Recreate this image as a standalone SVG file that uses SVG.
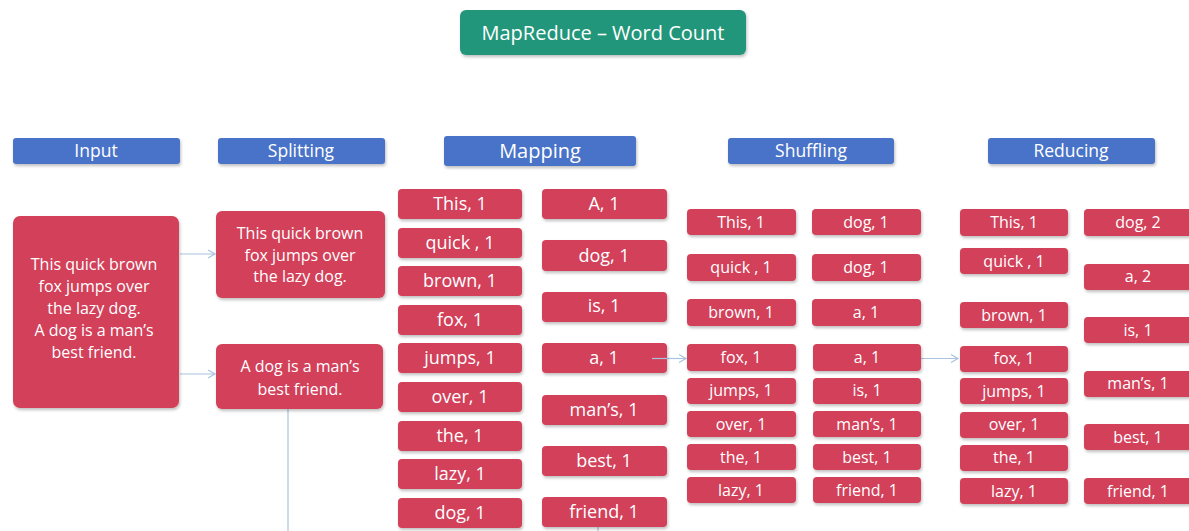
<svg xmlns="http://www.w3.org/2000/svg" width="1189" height="531" viewBox="0 0 1189 531">
<defs>
<filter id="sh" x="-10%" y="-20%" width="130%" height="160%">
<feDropShadow dx="1" dy="2" stdDeviation="1.5" flood-color="#000" flood-opacity="0.25"/>
</filter>
<marker id="arr" markerWidth="10" markerHeight="10" refX="8" refY="5" orient="auto" markerUnits="userSpaceOnUse">
<path d="M1,1 L8,5 L1,9" fill="none" stroke="#a9c2df" stroke-width="1.2"/>
</marker>
<style>
.r{fill:#d2405a;filter:url(#sh)}
.b{fill:#4a73c8;filter:url(#sh)}
.g{fill:#24967a;filter:url(#sh)}
text{font-family:"Open Sans","Noto Sans",sans-serif;fill:#fff;text-anchor:middle;dominant-baseline:central}
.t18{font-size:18px}
.t16{font-size:16px}
.t15{font-size:16px}
.h{font-size:17.5px}
.c{stroke:#a9c2df;stroke-width:1.2;fill:none}
</style>
</defs>
<rect width="1189" height="531" fill="#fff"/>

<g id="title"><rect class="g" x="460" y="10" width="286" height="45" rx="6"/><text x="603" y="32" style="font-size:20px">MapReduce – Word Count</text></g>

<g id="hdr-input"><rect class="b" x="13" y="138" width="167" height="26" rx="3"/><text class="h" x="96" y="150">Input</text></g>
<g id="hdr-splitting"><rect class="b" x="218" y="138" width="167" height="26" rx="3"/><text class="h" x="301" y="150">Splitting</text></g>
<g id="hdr-mapping"><rect class="b" x="444" y="136" width="192" height="30" rx="3"/><text x="540" y="150" style="font-size:20px">Mapping</text></g>
<g id="hdr-shuffling"><rect class="b" x="728" y="138" width="166" height="26" rx="3"/><text class="h" x="811" y="150">Shuffling</text></g>
<g id="hdr-reducing"><rect class="b" x="988" y="138" width="167" height="26" rx="3"/><text class="h" x="1071" y="150">Reducing</text></g>

<g id="connectors">
<line class="c" x1="180" y1="254" x2="215" y2="254" marker-end="url(#arr)"/>
<line class="c" x1="180" y1="374" x2="215" y2="374" marker-end="url(#arr)"/>
<line class="c" x1="288" y1="409" x2="288" y2="531"/>
<line class="c" x1="598" y1="527" x2="598" y2="531"/>
<line class="c" x1="667" y1="358.5" x2="686" y2="358.5" marker-end="url(#arr)"/>
<line class="c" x1="921" y1="358.5" x2="958" y2="358.5" marker-end="url(#arr)"/>
</g>

<g id="input"><rect class="r" x="13" y="216" width="166" height="192" rx="7"/>
<text class="t15" x="94" y="264">This quick brown</text>
<text class="t15" x="94" y="286">fox jumps over</text>
<text class="t15" x="94" y="308">the lazy dog.</text>
<text class="t15" x="94" y="330">A dog is a man’s</text>
<text class="t15" x="94" y="352">best friend.</text></g>

<g id="split1"><rect class="r" x="216" y="211" width="169" height="87" rx="6"/>
<text class="t15" x="300" y="233">This quick brown</text>
<text class="t15" x="300" y="255">fox jumps over</text>
<text class="t15" x="300" y="276">the lazy dog.</text></g>
<g id="split2"><rect class="r" x="216" y="344" width="167" height="65" rx="6"/>
<text class="t16" x="300" y="366">A dog is a man’s</text>
<text class="t16" x="300" y="389">best friend.</text></g>

<g id="map-this"><rect class="r" x="398" y="189" width="124" height="30" rx="4"/><text class="t18" x="460" y="203">This, 1</text></g>
<g id="map-quick"><rect class="r" x="398" y="228" width="124" height="30" rx="4"/><text class="t18" x="460" y="242">quick , 1</text></g>
<g id="map-brown"><rect class="r" x="398" y="266" width="124" height="30" rx="4"/><text class="t18" x="460" y="280">brown, 1</text></g>
<g id="map-fox"><rect class="r" x="398" y="305" width="124" height="30" rx="4"/><text class="t18" x="460" y="319">fox, 1</text></g>
<g id="map-jumps"><rect class="r" x="398" y="343" width="124" height="30" rx="4"/><text class="t18" x="460" y="357">jumps, 1</text></g>
<g id="map-over"><rect class="r" x="398" y="382" width="124" height="30" rx="4"/><text class="t18" x="460" y="396">over, 1</text></g>
<g id="map-the"><rect class="r" x="398" y="421" width="124" height="30" rx="4"/><text class="t18" x="460" y="435">the, 1</text></g>
<g id="map-lazy"><rect class="r" x="398" y="459" width="124" height="30" rx="4"/><text class="t18" x="460" y="473">lazy, 1</text></g>
<g id="map-dog"><rect class="r" x="398" y="498" width="124" height="30" rx="4"/><text class="t18" x="460" y="512">dog, 1</text></g>

<g id="map-A"><rect class="r" x="542" y="189" width="125" height="30" rx="4"/><text class="t18" x="604" y="203">A, 1</text></g>
<g id="map-dog2"><rect class="r" x="542" y="240" width="125" height="31" rx="4"/><text class="t18" x="604" y="255">dog, 1</text></g>
<g id="map-is"><rect class="r" x="542" y="292" width="125" height="30" rx="4"/><text class="t18" x="604" y="305">is, 1</text></g>
<g id="map-a"><rect class="r" x="542" y="343" width="125" height="30" rx="4"/><text class="t18" x="604" y="357">a, 1</text></g>
<g id="map-mans"><rect class="r" x="542" y="395" width="125" height="30" rx="4"/><text class="t18" x="604" y="409">man’s, 1</text></g>
<g id="map-best"><rect class="r" x="542" y="446" width="125" height="30" rx="4"/><text class="t18" x="604" y="460">best, 1</text></g>
<g id="map-friend"><rect class="r" x="542" y="497" width="125" height="30" rx="4"/><text class="t18" x="604" y="511">friend, 1</text></g>
<line class="c" x1="652" y1="358.5" x2="667" y2="358.5"/>

<g id="sh-this"><rect class="r" x="687" y="209" width="109" height="26" rx="4"/><text class="t16" x="741" y="222">This, 1</text></g>
<g id="sh-quick"><rect class="r" x="687" y="254" width="109" height="27" rx="4"/><text class="t16" x="741" y="267">quick , 1</text></g>
<g id="sh-brown"><rect class="r" x="687" y="299" width="109" height="27" rx="4"/><text class="t16" x="741" y="312">brown, 1</text></g>
<g id="sh-fox"><rect class="r" x="687" y="344" width="109" height="27" rx="4"/><text class="t16" x="741" y="357">fox, 1</text></g>
<g id="sh-jumps"><rect class="r" x="687" y="378" width="109" height="26" rx="4"/><text class="t16" x="741" y="390">jumps, 1</text></g>
<g id="sh-over"><rect class="r" x="687" y="411" width="109" height="26" rx="4"/><text class="t16" x="741" y="424">over, 1</text></g>
<g id="sh-the"><rect class="r" x="687" y="444" width="109" height="26" rx="4"/><text class="t16" x="741" y="457">the, 1</text></g>
<g id="sh-lazy"><rect class="r" x="687" y="477" width="109" height="26" rx="4"/><text class="t16" x="741" y="490">lazy, 1</text></g>

<g id="sh-dog1"><rect class="r" x="812" y="209" width="109" height="26" rx="4"/><text class="t16" x="866" y="222">dog, 1</text></g>
<g id="sh-dog2"><rect class="r" x="812" y="254" width="109" height="27" rx="4"/><text class="t16" x="866" y="267">dog, 1</text></g>
<g id="sh-a1"><rect class="r" x="812" y="299" width="109" height="27" rx="4"/><text class="t16" x="866" y="312">a, 1</text></g>
<g id="sh-a2"><rect class="r" x="813" y="344" width="108" height="27" rx="4"/><text class="t16" x="867" y="357">a, 1</text></g>
<g id="sh-is"><rect class="r" x="813" y="378" width="108" height="26" rx="4"/><text class="t16" x="867" y="390">is, 1</text></g>
<g id="sh-mans"><rect class="r" x="813" y="411" width="108" height="26" rx="4"/><text class="t16" x="867" y="424">man’s, 1</text></g>
<g id="sh-best"><rect class="r" x="813" y="444" width="108" height="26" rx="4"/><text class="t16" x="867" y="457">best, 1</text></g>
<g id="sh-friend"><rect class="r" x="813" y="477" width="108" height="26" rx="4"/><text class="t16" x="867" y="490">friend, 1</text></g>

<g id="red-this"><rect class="r" x="960" y="209" width="108" height="27" rx="4"/><text class="t16" x="1014" y="222">This, 1</text></g>
<g id="red-quick"><rect class="r" x="960" y="248" width="108" height="26" rx="4"/><text class="t16" x="1014" y="261">quick , 1</text></g>
<g id="red-brown"><rect class="r" x="960" y="302" width="108" height="26" rx="4"/><text class="t16" x="1014" y="315">brown, 1</text></g>
<g id="red-fox"><rect class="r" x="960" y="346" width="108" height="26" rx="4"/><text class="t16" x="1014" y="358">fox, 1</text></g>
<g id="red-jumps"><rect class="r" x="960" y="378" width="108" height="26" rx="4"/><text class="t16" x="1014" y="391">jumps, 1</text></g>
<g id="red-over"><rect class="r" x="960" y="412" width="108" height="26" rx="4"/><text class="t16" x="1014" y="424">over, 1</text></g>
<g id="red-the"><rect class="r" x="960" y="445" width="108" height="26" rx="4"/><text class="t16" x="1014" y="457">the, 1</text></g>
<g id="red-lazy"><rect class="r" x="960" y="478" width="108" height="26" rx="4"/><text class="t16" x="1014" y="491">lazy, 1</text></g>

<g id="red-dog"><rect class="r" x="1084" y="209" width="110" height="27" rx="4"/><text class="t16" x="1138" y="222">dog, 2</text></g>
<g id="red-a"><rect class="r" x="1084" y="264" width="110" height="26" rx="4"/><text class="t16" x="1138" y="276">a, 2</text></g>
<g id="red-is"><rect class="r" x="1084" y="317" width="110" height="26" rx="4"/><text class="t16" x="1138" y="330">is, 1</text></g>
<g id="red-mans"><rect class="r" x="1084" y="371" width="110" height="26" rx="4"/><text class="t16" x="1138" y="383">man’s, 1</text></g>
<g id="red-best"><rect class="r" x="1084" y="424" width="110" height="26" rx="4"/><text class="t16" x="1138" y="437">best, 1</text></g>
<g id="red-friend"><rect class="r" x="1084" y="478" width="110" height="26" rx="4"/><text class="t16" x="1138" y="491">friend, 1</text></g>
</svg>
